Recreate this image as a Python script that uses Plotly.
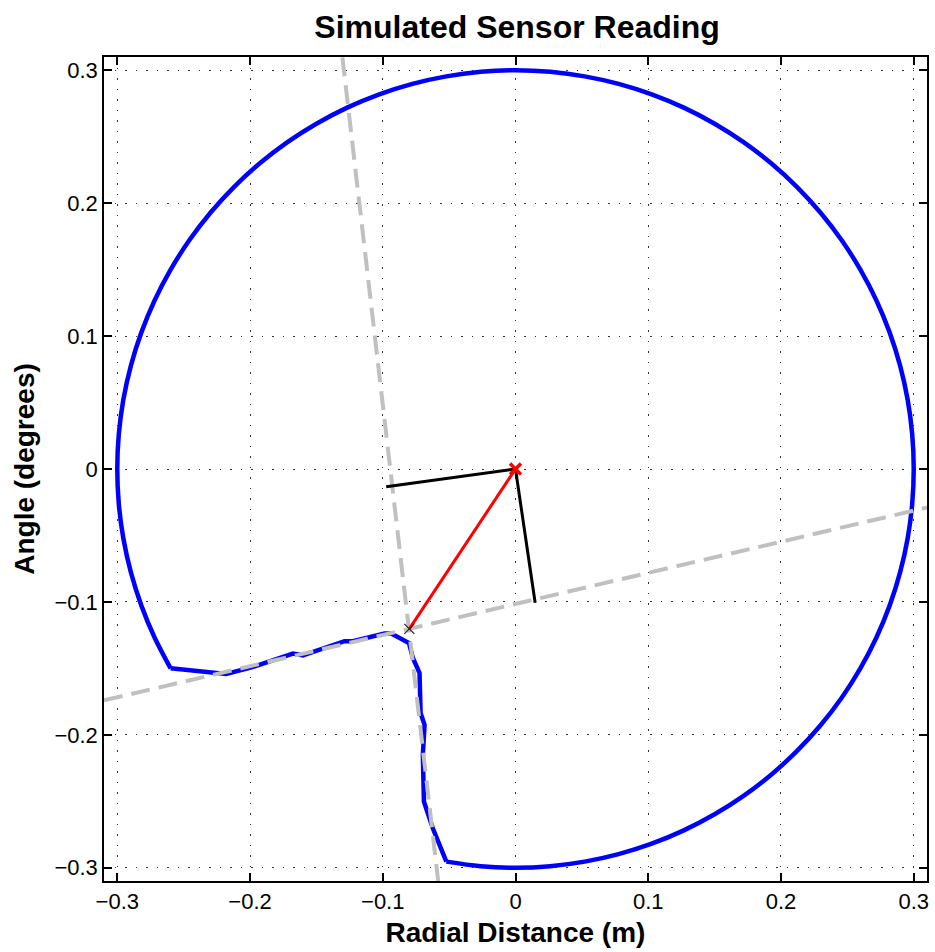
import plotly.graph_objects as go
import numpy as np

# ---- data ----
# sensor sweep (free space: max range reading)
arc_angles_deg = [-100, -95, -90, -85, -80, -75, -70, -65, -60, -55, -50, -45, -40, -35,
                  -30, -25, -20, -15, -10, -5, 0, 5, 10, 15, 20, 25, 30, 35, 40, 45, 50,
                  55, 60, 65, 70, 75, 80, 85, 90, 95, 100, 105, 110, 115, 120, 125, 130,
                  135, 140, 145, 150, 155, 160, 165, 170, 175, 180, 185, 190, 195, 200,
                  205, 210]
max_range = 0.3
# obstacle readings (corner)
obst_x = [-0.2598, -0.2180, -0.2003, -0.1677, -0.1602, -0.1288, -0.1225, -0.0987, -0.0936,
          -0.0803, -0.0773, -0.0723, -0.0715, -0.0685, -0.0698, -0.0690, -0.0623, -0.0521]
obst_y = [-0.1500, -0.1542, -0.1497, -0.1389, -0.1402, -0.1296, -0.1296, -0.1238, -0.1238,
          -0.1309, -0.1422, -0.1535, -0.1836, -0.1924, -0.2150, -0.2502, -0.2703, -0.2954]
# fitted wall lines
wall1_x = [-0.31, 0.31]
wall1_y = [-0.1741, -0.0290]
wall2_x = [-0.1304, -0.0582]
wall2_y = [0.3097, -0.3103]
# estimated corner and orientation
origin = [0.0, 0.0]
corner = [-0.0800, -0.1203]
axes_x = [-0.0974, 0.0, 0.0148]
axes_y = [-0.0133, 0.0, -0.1007]

ang = np.deg2rad(arc_angles_deg)
arc_x = list(max_range * np.cos(ang))
arc_y = list(max_range * np.sin(ang))

fig = go.Figure()
fig.add_trace(go.Scatter(x=arc_x, y=arc_y, mode="lines",
                         line=dict(color="#0000ff", width=4.5, shape="spline", smoothing=1.0),
                         hoverinfo="skip"))
fig.add_trace(go.Scatter(x=obst_x, y=obst_y, mode="lines",
                         line=dict(color="#0000ff", width=4.5), hoverinfo="skip"))
for wx, wy in [(wall1_x, wall1_y), (wall2_x, wall2_y)]:
    fig.add_trace(go.Scatter(x=wx, y=wy, mode="lines",
                             line=dict(color="#c0c0c0", width=4, dash="19px,9px")))
fig.add_trace(go.Scatter(x=axes_x, y=axes_y, mode="lines",
                         line=dict(color="black", width=3)))
fig.add_trace(go.Scatter(x=[origin[0], corner[0]], y=[origin[1], corner[1]], mode="lines",
                         line=dict(color="#ff0000", width=3)))
fig.add_trace(go.Scatter(x=[corner[0]], y=[corner[1]], mode="markers",
                         marker=dict(symbol="x-thin", size=10, color="black",
                                     line=dict(color="#222222", width=1.2))))
fig.add_trace(go.Scatter(x=[origin[0]], y=[origin[1]], mode="markers",
                         marker=dict(symbol="x-thin", size=11, color="#ff0000",
                                     line=dict(color="#ff0000", width=3.5))))

font_family = "Liberation Sans, Arial, sans-serif"
axis_common = dict(range=[-0.31, 0.31], dtick=0.1, tick0=0, showgrid=True,
                   gridcolor="#333333", griddash="1.5px,9px", gridwidth=1,
                   zeroline=False, showline=True, linecolor="black", linewidth=1.5,
                   mirror="ticks", ticks="inside", ticklen=8, tickwidth=1.5,
                   tickcolor="black", tickfont=dict(size=22, color="black", family=font_family))

fig.update_layout(
    width=935, height=952,
    margin=dict(l=104, r=6, t=57, b=71),
    paper_bgcolor="white", plot_bgcolor="white",
    showlegend=False,
    title=dict(text="<b>Simulated Sensor Reading</b>", x=0.553, xanchor="center",
               y=0.972, yanchor="middle",
               font=dict(size=32, color="black", family=font_family)),
    xaxis=dict(**axis_common,
               title=dict(text="<b>Radial Distance (m)</b>", standoff=9,
                          font=dict(size=28, color="black", family=font_family))),
    yaxis=dict(**axis_common,
               title=dict(text="<b>Angle (degrees)</b>", standoff=12,
                          font=dict(size=28, color="black", family=font_family))),
)

fig.write_html("out.html")
